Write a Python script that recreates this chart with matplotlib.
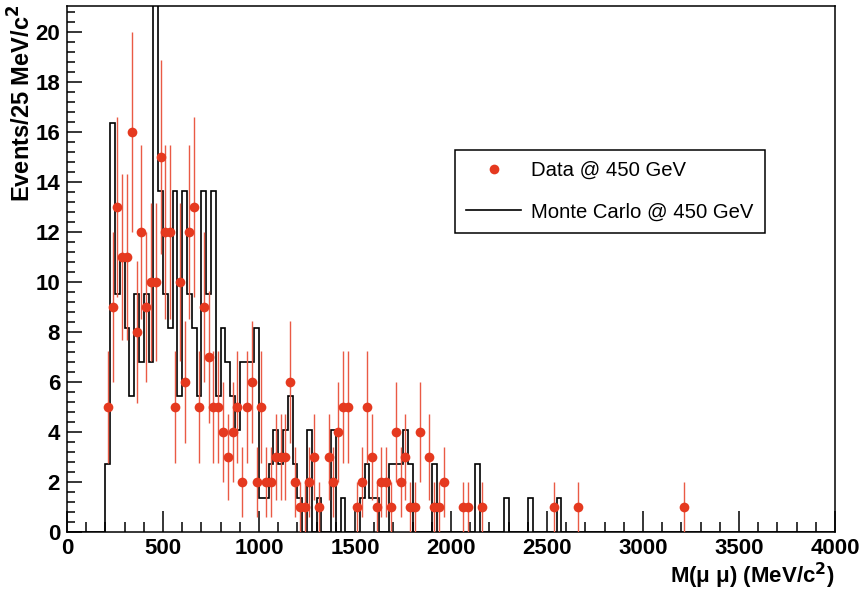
import numpy as np
import matplotlib
matplotlib.use("Agg")
import matplotlib.pyplot as plt
from matplotlib.ticker import MultipleLocator
from matplotlib.lines import Line2D

# ---- data ----
data_mass = [212.5, 237.5, 262.5, 287.5, 312.5, 337.5, 362.5, 387.5, 412.5, 437.5,
             462.5, 487.5, 512.5, 537.5, 562.5, 587.5, 612.5, 637.5, 662.5, 687.5,
             712.5, 737.5, 762.5, 787.5, 812.5, 837.5, 862.5, 887.5, 912.5, 937.5,
             962.5, 987.5, 1012.5, 1037.5, 1062.5, 1087.5, 1112.5, 1137.5, 1162.5, 1187.5,
             1212.5, 1237.5, 1262.5, 1287.5, 1312.5, 1362.5, 1387.5, 1412.5, 1437.5, 1462.5,
             1512.5, 1537.5, 1562.5, 1587.5, 1612.5, 1637.5, 1662.5, 1687.5, 1712.5, 1737.5,
             1762.5, 1787.5, 1812.5, 1837.5, 1887.5, 1912.5, 1937.5, 1962.5, 2062.5, 2087.5,
             2162.5, 2537.5, 2662.5, 3212.5]
data_counts = [5, 9, 13, 11, 11, 16, 8, 12, 9, 10,
               10, 15, 12, 12, 5, 10, 6, 12, 13, 5,
               9, 7, 5, 5, 4, 3, 4, 5, 2, 5,
               6, 2, 5, 2, 2, 3, 3, 3, 6, 2,
               1, 1, 2, 3, 1, 3, 2, 4, 5, 5,
               1, 2, 5, 3, 1, 2, 2, 1, 4, 2,
               3, 1, 1, 4, 3, 1, 1, 2, 1, 1,
               1, 1, 1, 1]

mc_low_edge = [200, 225, 250, 275, 300, 325, 350, 375, 400, 425,
               450, 475, 500, 525, 550, 575, 600, 625, 650, 675,
               700, 725, 750, 775, 800, 825, 850, 875, 900, 925,
               950, 975, 1000, 1025, 1050, 1075, 1100, 1125, 1150, 1175,
               1200, 1250, 1300, 1375, 1425, 1525, 1550, 1575, 1600, 1675,
               1700, 1725, 1750, 1775, 1900, 2125, 2275, 2400, 2550]
mc_values = [2.73, 16.35, 9.54, 10.9, 8.18, 5.45, 9.54, 6.81, 9.54, 6.81,
             23.16, 13.63, 9.54, 8.18, 13.63, 5.45, 13.63, 9.54, 8.18, 5.45,
             13.63, 9.54, 13.63, 5.45, 8.18, 6.81, 5.45, 4.09, 6.81, 6.81,
             6.81, 8.18, 1.36, 1.36, 2.73, 4.09, 2.73, 4.09, 5.45, 2.73,
             1.36, 4.09, 1.36, 4.09, 1.36, 1.36, 2.73, 1.36, 1.36, 2.73,
             2.73, 2.73, 4.09, 2.73, 2.73, 2.73, 1.36, 1.36, 1.36]

bin_width = 25
x_min, x_max = 0, 4000
y_min, y_max = 0, 21.04

# ---- style ----
plt.rcParams['font.family'] = ['Liberation Sans', 'DejaVu Sans']
red = '#e5391f'
fs_tick = 16
fs_label = 17

fig = plt.figure(figsize=(8.68, 5.91), dpi=100)
ax = fig.add_axes([67/868, 1 - 532/591, 768/868, 526/591])

edges = np.arange(x_min, x_max + bin_width, bin_width)
mc_full = np.zeros(len(edges) - 1)
for lo, v in zip(mc_low_edge, mc_values):
    mc_full[int(round((lo - x_min) / bin_width))] = v
ax.stairs(mc_full, edges, color='black', linewidth=1.2, baseline=0, zorder=2)

counts = np.array(data_counts, dtype=float)
ax.errorbar(data_mass, counts, yerr=np.sqrt(counts), xerr=bin_width / 2,
            fmt='o', color=red, ecolor='#ea5a45', elinewidth=1.0, markersize=7,
            markeredgewidth=0, capsize=0, zorder=3)

ax.set_xlim(x_min, x_max)
ax.set_ylim(y_min, y_max)

ax.xaxis.set_major_locator(MultipleLocator(500))
ax.xaxis.set_minor_locator(MultipleLocator(100))
ax.yaxis.set_major_locator(MultipleLocator(2))
ax.yaxis.set_minor_locator(MultipleLocator(0.4))
ax.tick_params(axis='x', which='major', direction='in', length=15, width=1.1,
               labelsize=fs_tick, pad=4, top=False)
ax.tick_params(axis='x', which='minor', direction='in', length=7.5, width=1.1, top=False)
ax.tick_params(axis='y', which='major', direction='in', length=11, width=1.1,
               labelsize=fs_tick, pad=5, right=False)
ax.tick_params(axis='y', which='minor', direction='in', length=5.5, width=1.1, right=False)
for lab in ax.get_xticklabels() + ax.get_yticklabels():
    lab.set_fontweight('bold')
for sp in ax.spines.values():
    sp.set_linewidth(1.1)

ax.set_xlabel('M(\u03bc \u03bc) (MeV/c$^{\\mathbf{2}}$)', fontsize=16, fontweight='bold',
              loc='right')
ax.xaxis.set_label_coords(1.0, -(576 - 532) / 526)
ax.xaxis.label.set_verticalalignment('center')
ax.set_ylabel('Events/25 MeV/c$^{\\mathbf{2}}$', fontsize=fs_label, fontweight='bold',
              loc='top')
ax.yaxis.set_label_coords(-(67 - 22) / 768, 1.0 + 1/526)
ax.yaxis.label.set_verticalalignment('center')

handles = [Line2D([], [], marker='o', color=red, linestyle='none', markersize=7,
                  markeredgewidth=0),
           Line2D([], [], color='black', linewidth=1.2)]
leg = ax.legend(handles, ['Data @ 450 GeV', 'Monte Carlo @ 450 GeV'],
                loc='upper left', bbox_to_anchor=(388/768, (532-150)/526),
                fancybox=False, edgecolor='black', framealpha=1, fontsize=14.6,
                handlelength=2.7, handletextpad=0.5, labelspacing=1.1,
                borderpad=0.55, borderaxespad=0)
leg.get_frame().set_linewidth(1.1)

fig.savefig('out.png', dpi=100)
